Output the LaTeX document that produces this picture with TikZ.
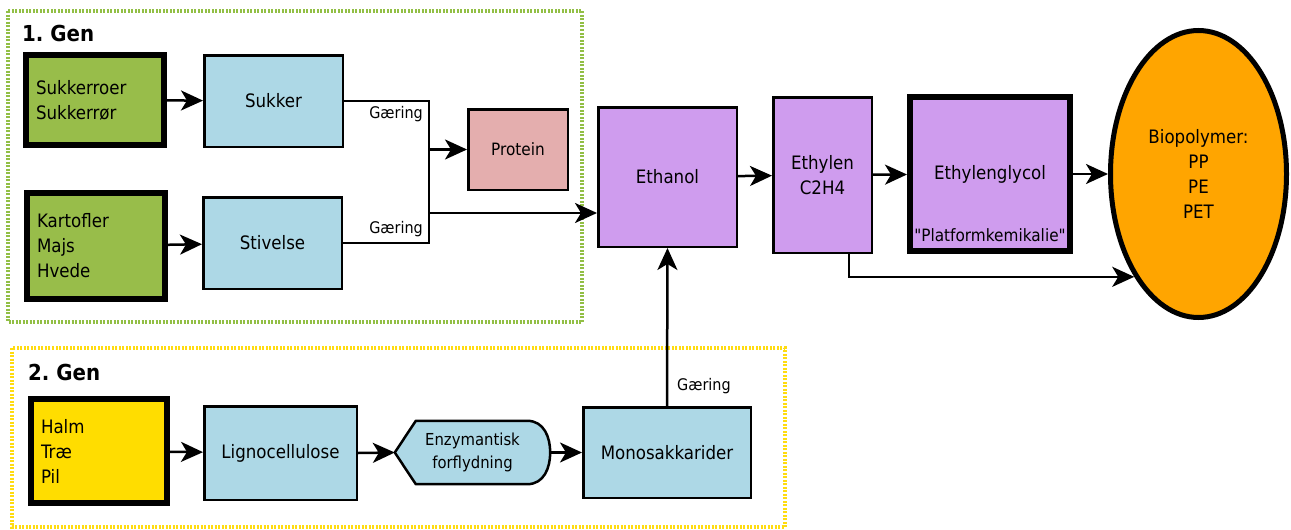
\documentclass[tikz,border=0pt]{standalone}
\usepackage{fontspec}
\setmainfont{DejaVu Sans}[FakeStretch=0.9]
\newfontfamily\qfont{DejaVu Sans}[FakeStretch=0.9]
\usetikzlibrary{arrows.meta,shapes.geometric}
\definecolor{frgreen}{HTML}{92BF45}
\definecolor{fryellow}{HTML}{FFDC10}
\definecolor{boxgreen}{HTML}{98BD4A}
\definecolor{boxblue}{HTML}{ADD8E6}
\definecolor{boxred}{HTML}{E4AEAE}
\definecolor{boxpurple}{HTML}{CF9CEE}
\definecolor{boxorange}{HTML}{FFA500}
\definecolor{boxyellow}{HTML}{FFDD00}
\begin{document}
\begin{tikzpicture}[x=1pt,y=-1pt,
  box/.style={draw=black, line width=2.5pt, inner sep=0pt, align=center,
    font=\fontsize{18.5}{25}\selectfont},
  thickbox/.style={box, line width=6pt},
  leftbox/.style={thickbox, text width=#1, align=left},
  arr/.style={line width=2.5pt, -{Stealth[length=22pt,width=20pt,inset=6pt]}},
  plain/.style={line width=2.5pt},
  frame/.style={line width=4pt, dash pattern=on 2pt off 1.5pt},
  lbl/.style={font=\fontsize{16}{20}\selectfont, inner sep=0pt},
  gen/.style={font=\fontsize{22}{26}\selectfont\bfseries, inner sep=0pt, anchor=west}
]
\useasboundingbox (0,0) rectangle (1291,530);

% frames
\draw[frame, frgreen] (8,11) rectangle (582,322);
\draw[frame, fryellow] (12,348) rectangle (785,527);
\node[gen] (gen1) at (22,33) {1.\ Gen};
\node[gen] (gen2) at (28,372) {2.\ Gen};

% 1. Gen
\node[leftbox=118pt, fill=boxgreen, minimum width=138pt, minimum height=90pt] (sroer) at (95,100) {Sukkerroer\\Sukkerrør};
\node[box, fill=boxblue, minimum width=138.5pt, minimum height=91.5pt] (sukker) at (273.5,101) {Sukker};
\node[leftbox=118pt, fill=boxgreen, minimum width=138pt, minimum height=106pt] (kart) at (96,246) {Kartofler\\Majs\\Hvede};
\node[box, fill=boxblue, minimum width=138.5pt, minimum height=91.5pt] (stiv) at (272.5,243) {Stivelse};
\node[box, fill=boxred, minimum width=99.5pt, minimum height=80.5pt, font=\fontsize{17}{20}\selectfont] (protein) at (518,149.5) {Protein};

% main chain
\node[box, fill=boxpurple, minimum width=138.5pt, minimum height=139.5pt] (ethanol) at (667.5,177) {Ethanol};
\node[box, fill=boxpurple, minimum width=98.5pt, minimum height=155.5pt] (ethylen) at (822.5,175) {Ethylen\\C2H4};
\node[thickbox, fill=boxpurple, minimum width=160pt, minimum height=154pt,
  label={[yshift=-61pt, font=\qfont\fontsize{17}{20}\selectfont]center:"Platformkemikalie"}] (glycol) at (990,174) {Ethylenglycol};
\node[box, ellipse, line width=5pt, fill=boxorange, minimum width=176pt, minimum height=287pt] (bio) at (1198.5,174) {Biopolymer:\\PP\\PE\\PET};

% 2. Gen
\node[leftbox=116pt, fill=boxyellow, minimum width=136pt, minimum height=104pt] (halm) at (99,451) {Halm\\Træ\\Pil};
\node[box, fill=boxblue, minimum width=152.5pt, minimum height=93.5pt] (ligno) at (280.5,453) {Lignocellulose};
\node[inner sep=0pt, minimum width=155pt, minimum height=63pt, align=center,
  font=\fontsize{16.5}{23}\selectfont] (enz) at (472.5,452.5) {};
\fill[boxblue, draw=black, line width=2.5pt, line join=round]
  (enz.west) -- ([xshift=21pt]enz.north west) -- ([xshift=-23pt]enz.north east)
  .. controls ([xshift=-6pt]enz.north east) and ([yshift=15pt]enz.east) .. (enz.east)
  .. controls ([yshift=-15pt]enz.east) and ([xshift=-6pt]enz.south east) .. ([xshift=-23pt]enz.south east)
  -- ([xshift=21pt]enz.south west) -- cycle;
\node[align=center, font=\fontsize{16.5}{23}\selectfont, inner sep=0pt] (enztext) at (enz.center) {Enzymantisk\\forflydning};
\node[box, fill=boxblue, minimum width=167.5pt, minimum height=90.5pt] (mono) at (667,452.5) {Monosakkarider};

% connectors 1. Gen
\coordinate (jx) at (429,170);
\coordinate (je) at (429,213);
\draw[arr] (sroer) -- (sukker);
\draw[arr] (kart) -- (stiv);
\draw[plain, line join=miter] (sukker.east) -| (jx) |- (stiv.east);
\draw[arr] (jx |- protein.west) -- (protein.west);
\draw[arr] (je) -- (je -| ethanol.west);
\node[lbl, anchor=east] (g1) at (423,114) {Gæring};
\node[lbl, anchor=east] (g2) at (423,229) {Gæring};

% connectors main chain
\draw[arr] (ethanol) -- (ethylen);
\draw[arr] (ethylen) -- (glycol);
\draw[arr] (glycol) -- (bio);
\draw[arr] ([xshift=26.5pt]ethylen.south) |- (bio.238);

% connectors 2. Gen
\draw[arr] (halm) -- (ligno);
\draw[arr] (ligno.east) -- (enz.west);
\draw[arr] (enz.east) -- (mono.west);
\draw[arr] (mono.north) -- (ethanol.south);
\node[lbl, anchor=west] (g3) at (677,386) {Gæring};
\end{tikzpicture}
\end{document}
